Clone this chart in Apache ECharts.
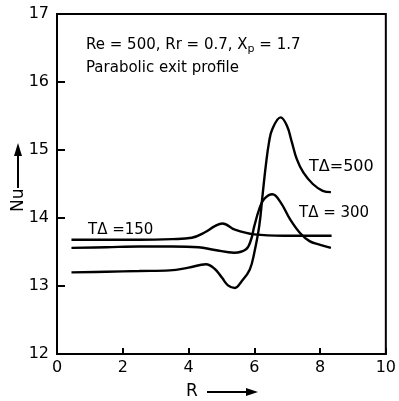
<!DOCTYPE html>
<html>
<head>
<meta charset="utf-8">
<script src="https://cdn.jsdelivr.net/npm/echarts@6/dist/echarts.min.js"></script>
<style>
  html, body { margin: 0; padding: 0; background: #fff; }
  #chart { width: 399px; height: 401px; }
</style>
</head>
<body>
<div id="chart"></div>
<script>
// R values and Nu values for each curve
const r150 = [0.44, 1.5, 2.5, 3.5, 4.1, 4.5, 4.8, 5.03, 5.41, 6.0, 6.9, 7.6, 8.35];
const nu150 = [13.68, 13.68, 13.68, 13.69, 13.71, 13.79, 13.88, 13.92, 13.83, 13.76, 13.74, 13.74, 13.74];

const r300 = [0.44, 1.5, 2.5, 3.5, 4.3, 4.8, 5.39, 5.75, 5.9, 6.0, 6.15, 6.3, 6.55, 6.8, 7.09, 7.39, 7.68, 7.98, 8.33];
const nu300 = [13.56, 13.57, 13.58, 13.58, 13.57, 13.53, 13.49, 13.54, 13.68, 13.88, 14.13, 14.28, 14.35, 14.23, 13.98, 13.78, 13.66, 13.61, 13.56];

const r500 = [0.44, 1.5, 2.5, 3.43, 4.0, 4.53, 4.8, 5.02, 5.2, 5.41, 5.6, 5.86, 6.0, 6.15, 6.25, 6.35, 6.45, 6.55, 6.8, 6.99, 7.14, 7.29, 7.49, 7.78, 8.08, 8.33];
const nu500 = [13.2, 13.21, 13.22, 13.23, 13.27, 13.32, 13.25, 13.12, 13.01, 12.97, 13.06, 13.24, 13.49, 13.88, 14.33, 14.77, 15.12, 15.31, 15.48, 15.36, 15.12, 14.87, 14.67, 14.5, 14.4, 14.38];

const xTicks = [0, 2, 4, 6, 8, 10];
const yTicks = [12, 13, 14, 15, 16, 17];

const pairs = (xs, ys) => xs.map((x, i) => [x, ys[i]]);
const font = "'DejaVu Sans', sans-serif";

const chart = echarts.init(document.getElementById("chart"), null, { renderer: "canvas" });

function curve(name, xs, ys) {
  return {
    name,
    type: "line",
    data: pairs(xs, ys),
    smooth: 0.4,
    symbol: "none",
    lineStyle: { color: "#000", width: 2.4 }
  };
}

chart.setOption({
  animation: false,
  backgroundColor: "#fff",
  grid: { left: 57, right: 4, top: 14, bottom: 47, show: true, borderColor: "#000", borderWidth: 2 },
  xAxis: {
    type: "value",
    min: xTicks[0],
    max: xTicks[xTicks.length - 1],
    interval: 2,
    axisLine: { lineStyle: { color: "#000", width: 2 } },
    axisTick: { inside: true, length: 6, lineStyle: { color: "#000", width: 2 } },
    splitLine: { show: false },
    axisLabel: { color: "#000", fontSize: 16, fontFamily: font, margin: 6 }
  },
  yAxis: {
    type: "value",
    min: yTicks[0],
    max: yTicks[yTicks.length - 1],
    interval: 1,
    axisLine: { lineStyle: { color: "#000", width: 2 } },
    axisTick: { inside: true, length: 8, lineStyle: { color: "#000", width: 2 } },
    splitLine: { show: false },
    axisLabel: { color: "#000", fontSize: 16, fontFamily: font, margin: 8 }
  },
  graphic: [
    {
      type: "text", left: 86, top: 38,
      style: {
        text: "Re = 500, Rr = 0.7, X{s|p} = 1.7",
        rich: { s: { fontSize: 11, fontFamily: font, padding: [8, 0, 0, 0] } },
        font: "15px " + font, fill: "#000"
      }
    },
    { type: "text", left: 86, top: 61, style: { text: "Parabolic exit profile", font: "15px " + font, fill: "#000" } },
    { type: "text", left: 309, top: 159, style: { text: "TΔ=500", font: "16px " + font, fill: "#000" } },
    { type: "text", left: 299, top: 206, style: { text: "TΔ = 300", font: "15px " + font, fill: "#000" } },
    { type: "text", left: 88, top: 223, style: { text: "TΔ =150", font: "15px " + font, fill: "#000" } },
    // axis titles with arrows
    { type: "text", left: 186, top: 383, style: { text: "R", font: "17px " + font, fill: "#000" } },
    { type: "line", shape: { x1: 207, y1: 392, x2: 248, y2: 392 }, style: { stroke: "#000", lineWidth: 2 } },
    { type: "polygon", shape: { points: [[246, 388], [258, 392], [246, 396]] }, style: { fill: "#000" } },
    { type: "text", x: 10, y: 212, rotation: Math.PI / 2, style: { text: "Nu", font: "17px " + font, fill: "#000" } },
    { type: "line", shape: { x1: 18, y1: 188, x2: 18, y2: 152 }, style: { stroke: "#000", lineWidth: 2 } },
    { type: "polygon", shape: { points: [[14, 156], [18, 143], [22, 156]] }, style: { fill: "#000" } }
  ],
  series: [
    curve("TΔ=150", r150, nu150),
    curve("TΔ=300", r300, nu300),
    curve("TΔ=500", r500, nu500)
  ]
});
</script>
</body>
</html>
